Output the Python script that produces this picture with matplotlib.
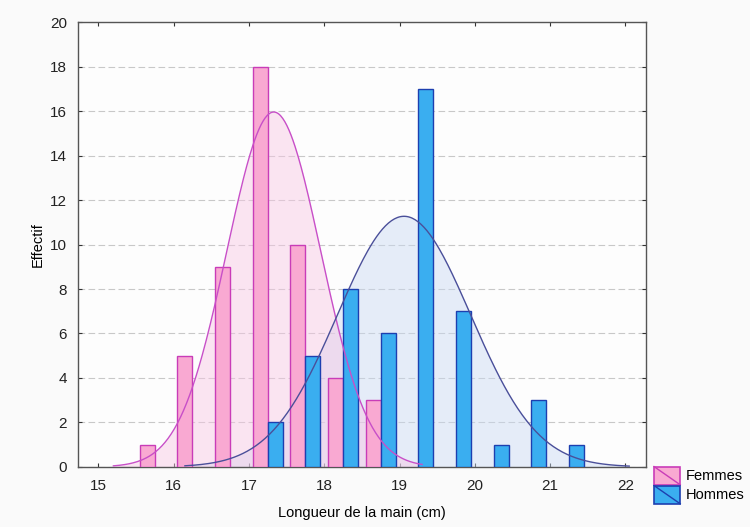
import numpy as np
import matplotlib
matplotlib.use("Agg")
import matplotlib.pyplot as plt
from matplotlib.patches import Rectangle, Patch
from matplotlib.lines import Line2D
from matplotlib.legend_handler import HandlerPatch

# === DATA ===
femmes_x = [15.65, 16.15, 16.65, 17.15, 17.65, 18.15, 18.65]
femmes_n = [1, 5, 9, 18, 10, 4, 3]
hommes_x = [17.35, 17.85, 18.35, 18.85, 19.35, 19.85, 20.35, 20.85, 21.35]
hommes_n = [2, 5, 8, 6, 17, 7, 1, 3, 1]

# fitted normal curves (mean, sd, drawn range)
femmes_fit = (17.33, 0.625, 15.2, 19.3)
hommes_fit = (19.06, 0.885, 16.15, 22.05)
bin_width = 0.5

# === STYLE ===
pink_fill, pink_edge = "#f9a9d2", "#c93cb8"
pink_curve, pink_area = "#c84fc8", "#f7c6e4"
blue_fill, blue_edge = "#3aaef0", "#1d3fb0"
blue_curve, blue_area = "#4a4f9a", "#c9d9f3"

plt.rcParams["font.family"] = ["Liberation Sans", "DejaVu Sans"]
plt.rcParams["font.size"] = 10.5


class DiagHandler(HandlerPatch):
    def create_artists(self, legend, orig_handle, xdescent, ydescent,
                       width, height, fontsize, trans):
        x0, y0 = -xdescent, -ydescent
        r = Rectangle((x0, y0), width, height, facecolor=orig_handle.get_facecolor(),
                      edgecolor=orig_handle.get_edgecolor(), lw=1.2, transform=trans)
        l = Line2D([x0, x0 + width], [y0 + height, y0],
                   color=orig_handle.get_edgecolor(), lw=1.0, transform=trans)
        return [r, l]


def normal_curve(mean, sd, lo, hi, n_total):
    xs = np.linspace(lo, hi, 300)
    ys = n_total * bin_width / (sd * np.sqrt(2 * np.pi)) * np.exp(-0.5 * ((xs - mean) / sd) ** 2)
    return xs, ys


fig = plt.figure(figsize=(7.5, 5.27), dpi=100, facecolor="#fafafa")
ax = fig.add_axes([0.104, 0.114, 0.757, 0.844])
ax.set_facecolor("#fdfdfd")

fx, fy = normal_curve(*femmes_fit, sum(femmes_n))
hx, hy = normal_curve(*hommes_fit, sum(hommes_n))
ax.fill_between(hx, 0, hy, color=blue_area, alpha=0.45, lw=0, zorder=1)
ax.fill_between(fx, 0, fy, color=pink_area, alpha=0.45, lw=0, zorder=1)

ax.bar(femmes_x, femmes_n, width=0.2, color=pink_fill, edgecolor=pink_edge, lw=1.0, zorder=3)
ax.bar(hommes_x, hommes_n, width=0.2, color=blue_fill, edgecolor=blue_edge, lw=1.0, zorder=3)

ax.plot(fx, fy, color=pink_curve, lw=1.0, zorder=4)
ax.plot(hx, hy, color=blue_curve, lw=1.0, zorder=4)

ax.set_xlim(14.73, 22.27)
ax.set_ylim(0, 20)
ax.set_xticks(range(15, 23))
ax.set_yticks(range(0, 21, 2))
ax.yaxis.grid(True, linestyle=(0, (6, 3)), color="#c8c8c8", lw=0.8)
ax.set_axisbelow(True)
ax.tick_params(direction="in", length=3, top=True, right=True, labeltop=False,
               labelright=False, colors="#333333", labelcolor="#222222", labelsize=11)
ax.tick_params(axis="x", pad=9)
ax.tick_params(axis="y", pad=8)
for s in ax.spines.values():
    s.set_color("#555555")
    s.set_linewidth(1.0)

ax.set_xlabel("Longueur de la main (cm)", labelpad=9)
ax.set_ylabel("Effectif", labelpad=4)

handles = [Patch(facecolor=pink_fill, edgecolor=pink_edge),
           Patch(facecolor=blue_fill, edgecolor=blue_edge)]
fig.legend(handles, ["Femmes", "Hommes"], loc="lower left",
           bbox_to_anchor=(0.872, 0.044), frameon=False, handlelength=1.8,
           handleheight=1.55, handletextpad=0.35, labelspacing=0.05, fontsize=10.5,
           borderaxespad=0.0, borderpad=0.0,
           handler_map={Patch: DiagHandler()})

fig.savefig("out.png", dpi=100, facecolor=fig.get_facecolor())
